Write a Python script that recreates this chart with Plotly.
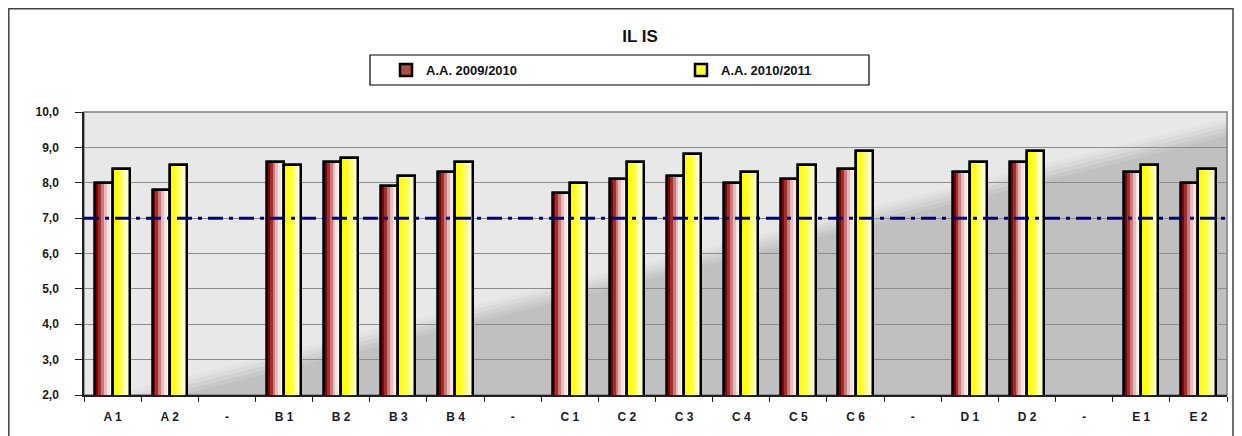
import plotly.graph_objects as go

# ---------------- data ----------------
categories = ["A 1", "A 2", "-", "B 1", "B 2", "B 3", "B 4", "-",
              "C 1", "C 2", "C 3", "C 4", "C 5", "C 6", "-",
              "D 1", "D 2", "-", "E 1", "E 2"]
aa_2009_2010 = [8.0, 7.8, None, 8.6, 8.6, 7.9, 8.3, None,
                7.7, 8.1, 8.2, 8.0, 8.1, 8.4, None,
                8.3, 8.6, None, 8.3, 8.0]
aa_2010_2011 = [8.4, 8.5, None, 8.5, 8.7, 8.2, 8.6, None,
                8.0, 8.6, 8.8, 8.3, 8.5, 8.9, None,
                8.6, 8.9, None, 8.5, 8.4]
series_names = ["A.A. 2009/2010", "A.A. 2010/2011"]
threshold = 7.0
y_ticks = [2, 3, 4, 5, 6, 7, 8, 9, 10]
y_ticktext = ["2,0", "3,0", "4,0", "5,0", "6,0", "7,0", "8,0", "9,0", "10,0"]
title_text = "IL IS"

# ---------------- geometry (page px -> figure, page has 8px body margin) ----------------
OFF = 8
W, H = 1242 - OFF, 436 - OFF
PL, PT, PR, PB = 84, 112, 1227, 395          # plot area in page pixels
L, T = PL - OFF, PT - OFF
R, B = W - (PR - OFF), H - (PB - OFF)
PW, PH = PR - PL, PB - PT

def page2paper(px, py):
    return (px - PL) / PW, (PB - py) / PH

FONT = "Liberation Sans, Arial, sans-serif"
red_strips = ["#840000", "#a32c2c", "#c97a7a", "#e5bcbc", "#f5e4e4", "#fefafa"]
yel_strips = ["#ffff00", "#ffff10", "#ffff3a", "#ffff7a", "#ffffbe", "#fffff2"]
bar_w = 0.3

x_idx = list(range(len(categories)))
fig = go.Figure()

def add_series(values, name, strips, start, legend_color):
    fig.add_trace(go.Bar(x=x_idx, y=values, name=name, width=bar_w, offset=start,
                         marker=dict(color=legend_color, line=dict(color="black", width=2.5)),
                         showlegend=True, hoverinfo="skip"))
    n = len(strips)
    for i, c in enumerate(strips):
        fig.add_trace(go.Bar(x=x_idx, y=values, width=bar_w / n, offset=start + i * bar_w / n,
                             marker=dict(color=c, line=dict(width=0)),
                             showlegend=False, hoverinfo="skip"))
    fig.add_trace(go.Bar(x=x_idx, y=values, width=bar_w, offset=start,
                         marker=dict(color="rgba(0,0,0,0)", line=dict(color="black", width=2.5)),
                         showlegend=False, hoverinfo="skip"))

add_series(aa_2009_2010, series_names[0], red_strips, -bar_w, "#b04848")
add_series(aa_2010_2011, series_names[1], yel_strips, 0.0, "#ffff33")

# background diagonal gradient (light upper-left, darker lower-right)
shapes = []
x0, s = 0.085, 1.0
bands = [(0.06, "#e2e2e2"), (0.045, "#dadada"), (0.03, "#d1d1d1"), (0.015, "#c8c8c8"), (0.0, "#c0c0c0")]
for dy, col in bands:
    xb = x0 - dy / s
    yt = s * (1 - x0) + dy
    if yt > 1:
        xt = x0 + (1 - dy) / s
        path = f"M {xb},0 L {xt},1 L 1,1 L 1,0 Z"
    else:
        path = f"M {xb},0 L 1,{yt} L 1,0 Z"
    shapes.append(dict(type="path", path=path, xref="x domain", yref="y domain",
                       fillcolor=col, line=dict(width=0), layer="below"))
shapes.append(dict(type="rect", xref="x domain", yref="y domain", x0=0, y0=0, x1=1, y1=1,
                   line=dict(color="#808080", width=1.5), layer="below"))
shapes.append(dict(type="line", xref="x domain", yref="y", x0=0, x1=1, y0=threshold, y1=threshold,
                   line=dict(color="#000080", width=3, dash="15px,6px,4px,6px"), layer="above"))
# legend box
lx0, ly0 = page2paper(370, 55)
lx1, ly1 = page2paper(869, 85)
shapes.append(dict(type="rect", xref="paper", yref="paper", x0=lx0, y0=ly1, x1=lx1, y1=ly0,
                   line=dict(color="black", width=1.2), fillcolor="white", layer="below"))
# outer chart frame
ox0, oy0 = page2paper(8.8, 8.8)
ox1, oy1 = page2paper(1233, 460)
shapes.append(dict(type="rect", xref="paper", yref="paper", x0=ox0, y0=oy1, x1=ox1, y1=oy0,
                   line=dict(color="#404040", width=1.5), layer="below"))

fig.update_layout(
    width=W, height=H,
    margin=dict(l=L, r=R, t=T, b=B, autoexpand=False),
    paper_bgcolor="white",
    plot_bgcolor="#e8e8e8",
    barmode="overlay",
    bargap=0,
    font=dict(family=FONT, size=12, color="#111111"),
    title=dict(text=title_text, x=(640 - OFF) / W, xref="container", xanchor="center",
               y=1 - (36 - OFF) / H, yref="container", yanchor="middle",
               font=dict(family=FONT, size=17, color="#111111", weight="bold")),
    legend=dict(orientation="h",
                x=(386 - OFF) / W, xref="container", xanchor="left",
                y=1 - (70 - OFF) / H, yref="container", yanchor="middle",
                bgcolor="rgba(0,0,0,0)", borderwidth=0,
                entrywidth=250, entrywidthmode="pixels",
                font=dict(family=FONT, size=13, color="#111111", weight="bold"),
                itemclick=False, itemdoubleclick=False),
    shapes=shapes,
    showlegend=True,
)

fig.update_xaxes(
    range=[-0.5, len(categories) - 0.5],
    tickmode="array", tickvals=x_idx, ticktext=categories,
    ticks="", showgrid=False, zeroline=False, automargin=False,
    showline=True, linecolor="#202020", linewidth=1.5,
    tickfont=dict(family=FONT, size=12, color="#1a1a2a", weight="bold"),
    ticklabelstandoff=10,
    minor=dict(tickvals=[i - 0.5 for i in range(len(categories) + 1)],
               ticks="outside", ticklen=5, tickcolor="#202020", tickwidth=1, showgrid=False),
)
fig.update_yaxes(
    range=[2, 10],
    tickmode="array", tickvals=y_ticks, ticktext=y_ticktext,
    ticks="outside", ticklen=7, tickcolor="#202020", tickwidth=1.2,
    showgrid=True, gridcolor="#8c8c8c", gridwidth=1, zeroline=False, automargin=False,
    showline=True, linecolor="#202020", linewidth=1.5,
    tickfont=dict(family=FONT, size=12, color="#1a1a1a", weight="bold"),
    ticklabelstandoff=14,
)

fig.write_html("out.html")
